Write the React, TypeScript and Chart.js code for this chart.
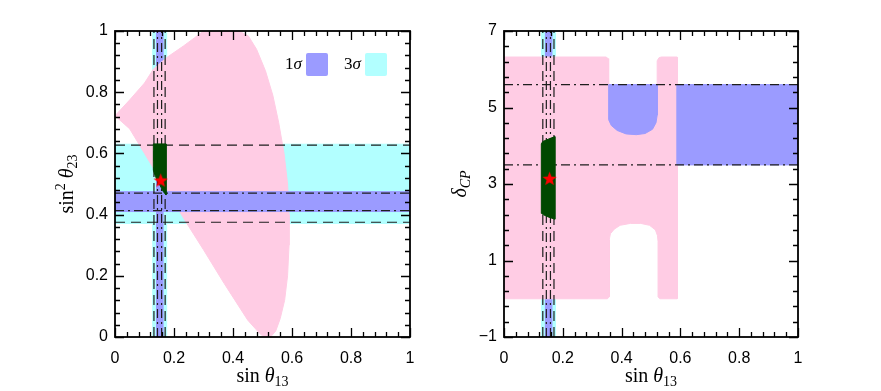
import React, { useEffect, useRef } from 'react';
import { Chart, registerables } from 'chart.js';

Chart.register(...registerables);

type Pt = [number, number];

// ---------------- axis ticks ----------------
const xTickValues = [0, 0.2, 0.4, 0.6, 0.8, 1];
const yTickValuesLeft = [0, 0.2, 0.4, 0.6, 0.8, 1];
const yTickValuesRight = [-1, 1, 3, 5, 7];
const xMinorStep = 0.04;
const yMinorStepLeft = 0.04;
const yMinorStepRight = 0.4;

// ---------------- experimental ranges ----------------
const s13Range3: number[] = [0.129, 0.175];
const s13Range1: number[] = [0.141, 0.163];
const s23Range3: number[] = [0.371, 0.63];
const s23Range1: number[] = [0.41, 0.475];
const dcpRange1: number[] = [3.5, 5.6];

const s13Dashed = [0.132, 0.17];
const s13DashDot = [0.144, 0.158];
const s23Dashed = [0.375, 0.627];
const s23DashDot = [0.413, 0.47];
const dcpDashDot = [3.5, 5.6];

// ---------------- left panel regions (sin θ13, sin² θ23) ----------------
const leftPink: Pt[] = [
  [0, 0.723], [0.05, 0.775], [0.1, 0.83], [0.13, 0.875], [0.175, 0.913], [0.232, 0.951],
  [0.27, 0.978], [0.3, 1.0], [0.42, 1.0], [0.452, 0.984], [0.48, 0.94], [0.51, 0.87],
  [0.535, 0.79], [0.555, 0.7], [0.573, 0.6], [0.585, 0.5], [0.59, 0.4], [0.59, 0.3],
  [0.585, 0.2], [0.575, 0.12], [0.56, 0.06], [0.545, 0.02], [0.53, 0.003], [0.515, 0],
  [0.5, 0.004], [0.49, 0.012], [0.45, 0.055], [0.37, 0.175], [0.3, 0.285], [0.243, 0.372],
  [0.175, 0.48], [0.1, 0.6], [0.05, 0.68], [0, 0.723],
];
const leftGreen: Pt[] = [
  [0.13, 0.631], [0.173, 0.631], [0.173, 0.464], [0.164, 0.475], [0.15, 0.5],
  [0.137, 0.525], [0.13, 0.545], [0.13, 0.631],
];
const leftBest: Pt = [0.155, 0.513];

// ---------------- right panel regions (sin θ13, δCP) ----------------
const rightPink: Pt[] = [
  [0, 0], [0, 6.32], [0.347, 6.32], [0.354, 6.28], [0.356, 5.6], [0.521, 5.6], [0.521, 6.22],
  [0.527, 6.3], [0.535, 6.32], [0.589, 6.32], [0.589, 0], [0.53, 0], [0.524, 0.05],
  [0.524, 1.5], [0.522, 1.65], [0.515, 1.8], [0.495, 1.92], [0.465, 1.97], [0.43, 1.97],
  [0.395, 1.92], [0.375, 1.82], [0.362, 1.7], [0.358, 1.55], [0.358, 0.05], [0.352, 0], [0, 0],
];
const rightBlueU: Pt[] = [
  [0.356, 5.6], [0.521, 5.6], [0.521, 4.8], [0.517, 4.6], [0.505, 4.43], [0.48, 4.32],
  [0.45, 4.29], [0.415, 4.31], [0.385, 4.4], [0.365, 4.53], [0.356, 4.68], [0.356, 5.6],
];
const rightBlueX: number[] = [0.589, 1];
const rightGreen: Pt[] = [
  [0.128, 2.23], [0.127, 2.4], [0.127, 4.05], [0.132, 4.11], [0.15, 4.17], [0.173, 4.24],
  [0.173, 2.08], [0.15, 2.14], [0.133, 2.2], [0.128, 2.23],
];
const rightBest: Pt = [0.155, 3.15];

// ---------------- styling ----------------
const PINK = '#ffcce4';
const CYAN = '#b2ffff';
const BLUE = '#9b9bff';
const GREEN = '#004800';
const LINE = '#1e1e1e';
const SERIF = '"Liberation Serif", "Times New Roman", serif';
const SANS = '"Liberation Sans", Arial, sans-serif';
const DASH = [10, 6];
const DASHDOT = [9, 4, 2, 4];

const toXY = (pts: Pt[]) => pts.map(([x, y]) => ({ x, y }));
const rect = (xr: number[], yr: number[]): Pt[] => [
  [xr[0], yr[0]], [xr[1], yr[0]], [xr[1], yr[1]], [xr[0], yr[1]], [xr[0], yr[0]],
];

function areaDs(pts: Pt[], color: string, order: number) {
  return {
    data: toXY(pts), backgroundColor: color, borderColor: color, borderWidth: 1,
    pointRadius: 0, fill: 'shape', tension: 0, order,
  };
}
function lineDs(pts: Pt[], dash: number[], order: number) {
  return {
    data: toXY(pts), borderColor: LINE, borderWidth: 1.2, borderDash: dash,
    pointRadius: 0, fill: false, tension: 0, order,
  };
}
function starImage(size: number) {
  const c = document.createElement('canvas');
  c.width = size; c.height = size;
  const g = c.getContext('2d')!;
  g.fillStyle = '#ff0000';
  g.beginPath();
  const R = size / 2, r = R * 0.42, cx = size / 2, cy = size / 2 + 0.8;
  for (let i = 0; i < 10; i++) {
    const ang = -Math.PI / 2 + (i * Math.PI) / 5;
    const rad = i % 2 === 0 ? R : r;
    g.lineTo(cx + rad * Math.cos(ang), cy + rad * Math.sin(ang));
  }
  g.closePath(); g.fill();
  return c;
}

type Run = { t: string; font: string; dy?: number };
function drawRuns(ctx: CanvasRenderingContext2D, runs: Run[], cx: number, cy: number, rotate: boolean) {
  ctx.save();
  ctx.translate(cx, cy);
  if (rotate) ctx.rotate(-Math.PI / 2);
  let total = 0;
  const widths = runs.map((r) => { ctx.font = r.font; const w = ctx.measureText(r.t).width; total += w; return w; });
  let x = -total / 2;
  ctx.textBaseline = 'alphabetic';
  ctx.textAlign = 'left';
  ctx.fillStyle = '#000';
  runs.forEach((r, i) => { ctx.font = r.font; ctx.fillText(r.t, x, r.dy || 0); x += widths[i]; });
  ctx.restore();
}

const fmt = (v: number) => String(v).replace('-', '\u2212');

interface DecoCfg {
  xMajor: number[]; yMajor: number[]; xMinor: number; yMinor: number;
  xTitle: Run[]; xTitlePos: [number, number];
  yTitle: Run[]; yTitlePos: [number, number];
  legend?: boolean;
}

function makeDeco(cfg: DecoCfg) {
  return {
    id: 'deco',
    afterDraw(chart: any) {
      const { ctx, chartArea: a, scales } = chart;
      const xs = scales.x, ys = scales.y;
      ctx.save();
      ctx.strokeStyle = '#000';
      ctx.lineWidth = 1.3;
      const isMajor = (v: number, arr: number[]) => arr.some((m) => Math.abs(m - v) < 1e-6);
      const nx = Math.round((xs.max - xs.min) / cfg.xMinor);
      for (let i = 0; i <= nx; i++) {
        const v = xs.min + i * cfg.xMinor;
        const px = Math.round(xs.getPixelForValue(v)) + 0.5;
        const len = isMajor(v, cfg.xMajor) ? 9 : 5;
        ctx.beginPath();
        ctx.moveTo(px, a.bottom); ctx.lineTo(px, a.bottom - len);
        ctx.moveTo(px, a.top); ctx.lineTo(px, a.top + len);
        ctx.stroke();
      }
      const ny = Math.round((ys.max - ys.min) / cfg.yMinor);
      for (let i = 0; i <= ny; i++) {
        const v = ys.min + i * cfg.yMinor;
        const py = Math.round(ys.getPixelForValue(v)) + 0.5;
        const len = isMajor(v, cfg.yMajor) ? 9 : 5;
        ctx.beginPath();
        ctx.moveTo(a.left, py); ctx.lineTo(a.left + len, py);
        ctx.moveTo(a.right, py); ctx.lineTo(a.right - len, py);
        ctx.stroke();
      }
      ctx.lineWidth = 1.8;
      ctx.strokeRect(a.left, a.top, a.right - a.left, a.bottom - a.top);
      drawRuns(ctx, cfg.xTitle, cfg.xTitlePos[0], cfg.xTitlePos[1], false);
      drawRuns(ctx, cfg.yTitle, cfg.yTitlePos[0], cfg.yTitlePos[1], true);
      if (cfg.legend) {
        const f = 17;
        ctx.textBaseline = 'alphabetic';
        ctx.fillStyle = '#000';
        const label = (num: string, x: number) => {
          ctx.font = `italic ${f}px ${SERIF}`;
          const wS = ctx.measureText('\u03c3').width;
          ctx.fillText('\u03c3', x - wS, 69);
          ctx.font = `${f}px ${SERIF}`;
          const wN = ctx.measureText(num).width;
          ctx.fillText(num, x - wS - wN, 69);
        };
        label('1', 302);
        label('3', 361);
        const box = (x: number, color: string) => {
          ctx.fillStyle = color;
          ctx.beginPath();
          (ctx as any).roundRect ? (ctx as any).roundRect(x, 53, 22, 23, 2) : ctx.rect(x, 53, 22, 23);
          ctx.fill();
          ctx.fillStyle = '#000';
        };
        box(306, BLUE);
        box(365, CYAN);
      }
      ctx.restore();
    },
  };
}

function baseOptions(yMin: number, yMax: number, yTicks: number[], yWidth: number, padRight: number) {
  return {
    animation: false,
    responsive: false,
    maintainAspectRatio: false,
    events: [],
    layout: { padding: { left: 0, right: padRight, top: 31, bottom: 0 } },
    plugins: { legend: { display: false }, tooltip: { enabled: false } },
    scales: {
      x: {
        type: 'linear', min: 0, max: 1,
        afterBuildTicks: (s: any) => { s.ticks = xTickValues.map((v) => ({ value: v })); },
        afterFit: (s: any) => { s.height = 54; },
        grid: { display: false, drawTicks: false, tickLength: 0 },
        border: { display: false },
        ticks: {
          font: { family: SANS, size: 16 }, color: '#000', padding: 12,
          maxRotation: 0, autoSkip: false, callback: (v: any) => fmt(Number(v)),
        },
      },
      y: {
        type: 'linear', min: yMin, max: yMax,
        afterBuildTicks: (s: any) => { s.ticks = yTicks.map((v) => ({ value: v })); },
        afterFit: (s: any) => { s.width = yWidth; },
        grid: { display: false, drawTicks: false, tickLength: 0 },
        border: { display: false },
        ticks: {
          font: { family: SANS, size: 16 }, color: '#000', padding: 7,
          autoSkip: false, callback: (v: any) => fmt(Number(v)),
        },
      },
    },
  };
}

const TF = 20, SF = 14;
const xTitleRuns: Run[] = [
  { t: 'sin ', font: `${TF}px ${SERIF}` },
  { t: '\u03b8', font: `italic ${TF}px ${SERIF}` },
  { t: '13', font: `${SF}px ${SERIF}`, dy: 4 },
];

export default function App() {
  const leftRef = useRef<HTMLCanvasElement>(null);
  const rightRef = useRef<HTMLCanvasElement>(null);

  useEffect(() => {
    const star = starImage(15);
    const vLines = (ys: number[]) => [
      ...s13Dashed.map((x) => lineDs([[x, ys[0]], [x, ys[1]]], DASH, 4)),
      ...s13DashDot.map((x) => lineDs([[x, ys[0]], [x, ys[1]]], DASHDOT, 4)),
    ];

    const leftCfg: any = {
      type: 'line',
      data: {
        datasets: [
          areaDs(rect([0, 1], s23Range3), CYAN, 12),
          areaDs(rect(s13Range3, [0, 1]), CYAN, 11),
          areaDs(rect(s13Range1, [0, 1]), BLUE, 10),
          areaDs(leftPink, PINK, 9),
          areaDs(rect([0, 1], s23Range1), BLUE, 8),
          ...s23Dashed.map((y) => lineDs([[0, y], [1, y]], DASH, 4)),
          ...s23DashDot.map((y) => lineDs([[0, y], [1, y]], DASHDOT, 4)),
          ...vLines([0, 1]),
          areaDs(leftGreen, GREEN, 2),
          { data: toXY([leftBest]), pointStyle: star, pointRadius: 7, showLine: false, order: 1 },
        ],
      },
      options: baseOptions(0, 1, yTickValuesLeft, 115, 40),
      plugins: [makeDeco({
        xMajor: xTickValues, yMajor: yTickValuesLeft, xMinor: xMinorStep, yMinor: yMinorStepLeft,
        xTitle: xTitleRuns, xTitlePos: [262.5, 382],
        yTitle: [
          { t: 'sin', font: `${TF}px ${SERIF}` },
          { t: '2', font: `${SF}px ${SERIF}`, dy: -8 },
          { t: ' \u03b8', font: `italic ${TF}px ${SERIF}` },
          { t: '23', font: `${SF}px ${SERIF}`, dy: 4 },
        ],
        yTitlePos: [73, 184],
        legend: true,
      })],
    };

    const rightCfg: any = {
      type: 'line',
      data: {
        datasets: [
          areaDs(rect(s13Range3, [-1, 7]), CYAN, 12),
          areaDs(rect(s13Range1, [-1, 7]), BLUE, 11),
          areaDs(rightPink, PINK, 9),
          areaDs(rightBlueU, BLUE, 8),
          areaDs(rect(rightBlueX, dcpRange1), BLUE, 8),
          ...dcpDashDot.map((y) => lineDs([[0, y], [1, y]], DASHDOT, 4)),
          ...vLines([-1, 7]),
          areaDs(rightGreen, GREEN, 2),
          { data: toXY([rightBest]), pointStyle: star, pointRadius: 7, showLine: false, order: 1 },
        ],
      },
      options: baseOptions(-1, 7, yTickValuesRight, 54, 83),
      plugins: [makeDeco({
        xMajor: xTickValues, yMajor: yTickValuesRight, xMinor: xMinorStep, yMinor: yMinorStepRight,
        xTitle: xTitleRuns, xTitlePos: [201, 382],
        yTitle: [
          { t: '\u03b4', font: `italic ${TF}px ${SERIF}` },
          { t: 'CP', font: `italic ${SF}px ${SERIF}`, dy: 4 },
        ],
        yTitlePos: [16, 184],
      })],
    };

    const c1 = new Chart(leftRef.current!, leftCfg);
    const c2 = new Chart(rightRef.current!, rightCfg);
    return () => { c1.destroy(); c2.destroy(); };
  }, []);

  return (
    <div style={{ position: 'fixed', left: 0, top: 0, width: 881, height: 391, background: '#fff' }}>
      <canvas ref={leftRef} width={450} height={391}
        style={{ position: 'absolute', left: 0, top: 0, width: 450, height: 391 }} />
      <canvas ref={rightRef} width={431} height={391}
        style={{ position: 'absolute', left: 450, top: 0, width: 431, height: 391 }} />
    </div>
  );
}
